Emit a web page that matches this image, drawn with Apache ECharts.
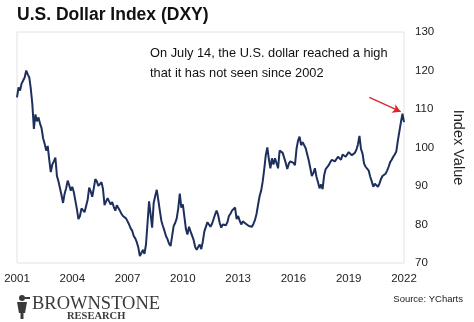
<!DOCTYPE html>
<html>
<head>
<meta charset="utf-8">
<script src="https://cdn.jsdelivr.net/npm/echarts@6/dist/echarts.min.js"></script>
<style>
  html, body { margin: 0; padding: 0; background: #fff; }
  #chart { width: 474px; height: 322px; }
</style>
</head>
<body>
<div id="chart"></div>
<script>
// U.S. Dollar Index, monthly readings starting January 2001
const startYear = 2001;
const dxy2001 = [113.0, 115.6, 114.8, 116.6, 117.4, 118.2, 120.0, 119.0, 118.2, 115.2, 111.2, 104.8];
const dxy2002 = [108.6, 106.8, 107.8, 106.2, 105.0, 102.4, 101.0, 99.2, 100.4, 96.8, 93.6, 95.6];
const dxy2003 = [96.4, 97.4, 92.6, 91.2, 89.4, 87.6, 85.6, 88.0, 89.4, 91.4, 90.2, 88.8];
const dxy2004 = [89.8, 88.4, 86.2, 84.0, 81.4, 82.2, 84.2, 84.4, 83.2, 82.8, 86.4, 89.6];
const dxy2005 = [88.6, 87.2, 89.4, 91.8, 91.2, 90.0, 90.2, 91.0, 89.2, 85.0, 86.0, 86.8];
const dxy2006 = [86.0, 85.2, 85.8, 84.6, 83.6, 85.0, 84.6, 83.6, 82.8, 82.2, 82.4, 81.6];
const dxy2007 = [80.8, 80.0, 79.0, 78.4, 77.0, 76.4, 75.4, 74.0, 71.8, 72.6, 73.4, 72.4];
const dxy2008 = [74.8, 80.4, 86.0, 86.4, 79.2, 85.6, 87.4, 89.0, 86.4, 83.6, 81.0, 79.6];
const dxy2009 = [78.4, 77.0, 76.2, 75.0, 74.4, 77.0, 79.6, 80.4, 81.6, 84.2, 88.0, 84.4];
const dxy2010 = [85.2, 82.0, 78.8, 77.4, 79.4, 78.2, 77.8, 76.0, 74.2, 73.4, 74.2, 74.8];
const dxy2011 = [73.6, 75.6, 78.2, 79.4, 80.6, 81.0, 79.4, 80.2, 79.8, 82.6, 83.6, 82.4];
const dxy2012 = [80.4, 79.2, 80.0, 80.4, 79.8, 80.6, 82.2, 82.8, 83.6, 84.0, 84.4, 81.4];
const dxy2013 = [82.2, 81.0, 80.0, 80.8, 80.4, 80.2, 79.8, 79.6, 80.0, 79.4, 80.2, 81.2];
const dxy2014 = [82.8, 85.2, 87.4, 88.8, 91.2, 94.4, 98.0, 100.0, 97.0, 94.6, 97.2, 95.6];
const dxy2015 = [97.2, 97.6, 94.6, 99.2, 99.4, 98.6, 98.4, 96.0, 94.4, 95.8, 96.4, 96.8];
const dxy2016 = [96.0, 95.4, 99.6, 101.8, 102.8, 100.6, 101.4, 101.6, 99.8, 98.2, 96.6, 94.6];
const dxy2017 = [92.6, 93.4, 94.6, 92.4, 91.0, 89.4, 90.4, 89.2, 92.8, 94.4, 94.2, 95.4];
const dxy2018 = [96.2, 96.8, 97.2, 96.4, 96.6, 97.6, 97.2, 96.8, 98.2, 98.4, 97.6, 97.8];
const dxy2019 = [98.8, 98.6, 98.0, 97.6, 98.6, 99.4, 100.8, 103.0, 99.6, 98.4, 95.8, 95.0];
const dxy2020 = [94.6, 94.0, 92.4, 91.2, 89.8, 90.6, 91.0, 89.8, 90.6, 91.8, 92.6, 93.0];
const dxy2021 = [93.2, 94.0, 95.0, 96.2, 96.8, 97.6, 98.2, 99.0, 101.8, 104.2, 106.6, 108.8];
const dxy2022 = [106.6];

// Axis ticks
const xTicks = [2001, 2004, 2007, 2010, 2013, 2016, 2019, 2022];
const yTicks = [70, 80, 90, 100, 110, 120, 130];

// Arrow pointing at the July high: [year, index] at tail and head
const arrowTail = [2020.12, 113.0];
const arrowHead = [2021.82, 109.3];

const dxyMonthly = [].concat(
  dxy2001, dxy2002, dxy2003, dxy2004, dxy2005, dxy2006, dxy2007,
  dxy2008, dxy2009, dxy2010, dxy2011, dxy2012, dxy2013, dxy2014,
  dxy2015, dxy2016, dxy2017, dxy2018, dxy2019, dxy2020, dxy2021, dxy2022
);
const seriesData = dxyMonthly.map((v, i) => [startYear + i / 12, v]);

const chart = echarts.init(document.getElementById('chart'), null, { renderer: 'canvas' });
const sans = '"Liberation Sans", Arial, Helvetica, sans-serif';
const serif = '"Liberation Serif", "Times New Roman", serif';

chart.setOption({
  animation: false,
  backgroundColor: '#ffffff',
  title: {
    text: 'U.S. Dollar Index (DXY)',
    left: 17,
    top: 6,
    padding: 0,
    textStyle: { fontFamily: sans, fontSize: 17.5, fontWeight: 'bold', color: '#111' }
  },
  grid: {
    left: 17, top: 32, right: 70, bottom: 59,
    show: true, borderColor: '#e2e2e2', borderWidth: 1, backgroundColor: 'transparent'
  },
  xAxis: {
    type: 'value',
    min: xTicks[0],
    max: xTicks[xTicks.length - 1],
    interval: xTicks[1] - xTicks[0],
    axisLine: { show: false },
    axisTick: { show: false },
    splitLine: { show: false },
    axisLabel: {
      margin: 10,
      color: '#222',
      fontFamily: sans,
      fontSize: 11.5,
      formatter: v => String(v)
    }
  },
  yAxis: {
    type: 'value',
    position: 'right',
    min: yTicks[0],
    max: yTicks[yTicks.length - 1],
    interval: yTicks[1] - yTicks[0],
    axisLine: { show: false },
    axisTick: { show: false },
    splitLine: { show: false },
    axisLabel: { margin: 11, color: '#222', fontFamily: sans, fontSize: 11.5 },
    name: 'Index Value',
    nameLocation: 'middle',
    nameRotate: -90,
    nameGap: 46,
    nameTextStyle: { fontFamily: sans, fontSize: 14.5, color: '#222' }
  },
  series: [{
    type: 'line',
    data: seriesData,
    showSymbol: false,
    symbol: 'none',
    lineStyle: { color: '#1d2f5c', width: 2 },
    markLine: {
      silent: true,
      symbol: ['none', 'arrow'],
      symbolSize: [7, 8],
      label: { show: false },
      lineStyle: { color: '#d9262c', width: 1.4, type: 'solid' },
      data: [[{ coord: arrowTail }, { coord: arrowHead }]]
    }
  }],
  graphic: [
    {
      type: 'text',
      left: 150,
      top: 43,
      style: {
        text: 'On July 14, the U.S. dollar reached a high\nthat it has not seen since 2002',
        font: '12.8px ' + sans,
        fill: '#111',
        lineHeight: 20
      }
    },
    {
      type: 'text',
      right: 11,
      top: 294,
      style: { text: 'Source: YCharts', font: '9.5px ' + sans, fill: '#222' }
    },
    {
      type: 'group',
      left: 17,
      top: 295,
      children: [
        // small lantern emblem
        { type: 'circle', shape: { cx: 6, cy: 4, r: 3 }, style: { fill: '#3a3a3a' } },
        { type: 'polygon', shape: { points: [[1, 8], [11, 8], [9, 19], [3, 19]] }, style: { fill: '#3a3a3a' } },
        { type: 'rect', shape: { x: 4.5, y: 19, width: 3, height: 6 }, style: { fill: '#3a3a3a' } },
        { type: 'rect', shape: { x: 9, y: 3, width: 5, height: 2 }, style: { fill: '#3a3a3a' } },
        {
          type: 'text',
          x: 16, y: 1,
          style: { text: 'BROWNSTONE', font: '18.5px ' + serif, fill: '#3a3a3a' }
        },
        {
          type: 'text',
          x: 51, y: 17,
          style: { text: 'RESEARCH', font: 'bold 10.5px ' + serif, fill: '#3a3a3a' }
        }
      ]
    }
  ]
});
</script>
</body>
</html>
